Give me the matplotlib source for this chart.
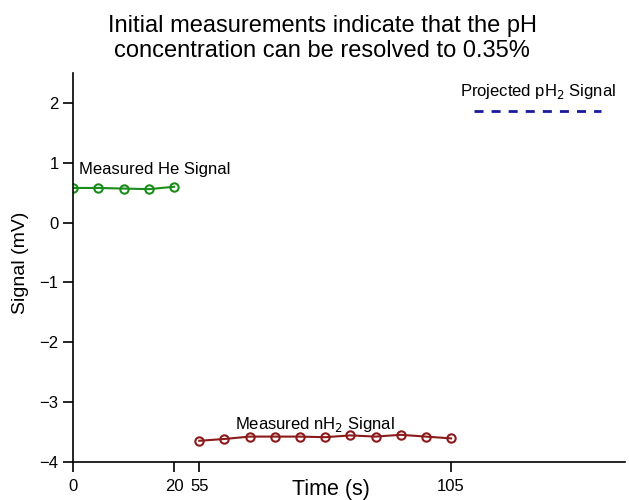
import matplotlib.pyplot as plt
import numpy as np

plt.rcParams['font.family'] = ['Liberation Sans', 'DejaVu Sans']

# data
he_time = [0, 5, 10, 15, 20]
he_signal = [0.58, 0.58, 0.57, 0.56, 0.60]
nh2_time = [55, 60, 65, 70, 75, 80, 85, 90, 95, 100, 105]
nh2_signal = [-3.65, -3.62, -3.58, -3.58, -3.58, -3.59, -3.56, -3.58, -3.55, -3.58, -3.61]
ph2_time = [109.5, 134.7]
ph2_signal = [1.87, 1.87]
tick_times = [0, 20, 55, 105]

GAP = 30  # time skipped between 20 and 55 s


def squeeze(t):
    t = np.asarray(t, dtype=float)
    return np.where(t > 20, t - GAP, t)


fig = plt.figure(figsize=(6.29, 5.0), dpi=100)
ax = fig.add_axes([0.1165, 0.0766, 0.877, 0.777])

ax.plot(squeeze(he_time), he_signal, color='#1a8c1a', marker='o', mfc='none',
        ms=6, mew=1.5, lw=1.5)
ax.plot(squeeze(nh2_time), nh2_signal, color='#8c1a1a', marker='o', mfc='none',
        ms=6, mew=1.5, lw=1.5)
ax.plot(squeeze(ph2_time), ph2_signal, color='#1a1a9c', ls=(0, (3.25, 2.9)), lw=2)

ax.text(squeeze(1.2)[()], 0.82, 'Measured He Signal', fontsize=12)
ax.text(squeeze(77.9)[()], -3.46, 'Measured nH$_2$ Signal', fontsize=12, ha='center')
ax.text(squeeze(122.3)[()], 2.12, 'Projected pH$_2$ Signal', fontsize=12, ha='center')

ax.set_xlim(0, squeeze(139.5)[()])
ax.set_ylim(-4, 2.5)
ax.set_xticks(squeeze(tick_times))
ax.set_xticklabels([str(t) for t in tick_times])
ax.set_yticks(range(-4, 3))
ax.set_yticklabels([f'{v}'.replace('-', '\u2212') for v in range(-4, 3)])
ax.tick_params(labelsize=12, length=7.5, width=1.2, direction='out')
ax.tick_params(axis='x', pad=5)
ax.tick_params(axis='y', pad=3)

for s in ['top', 'right']:
    ax.spines[s].set_visible(False)
for s in ['left', 'bottom']:
    ax.spines[s].set_linewidth(1.2)

ax.set_xlabel('Time (s)', fontsize=15.5)
ax.xaxis.set_label_coords(0.467, -0.045)
ax.set_ylabel('Signal (mV)', fontsize=14)
ax.yaxis.set_label_coords(-0.08, 0.511)

fig.text(0.512, 0.97, 'Initial measurements indicate that the pH\nconcentration can be resolved to 0.35%',
         fontsize=17, ha='center', va='top', multialignment='center')

plt.savefig('out.png', dpi=100)
